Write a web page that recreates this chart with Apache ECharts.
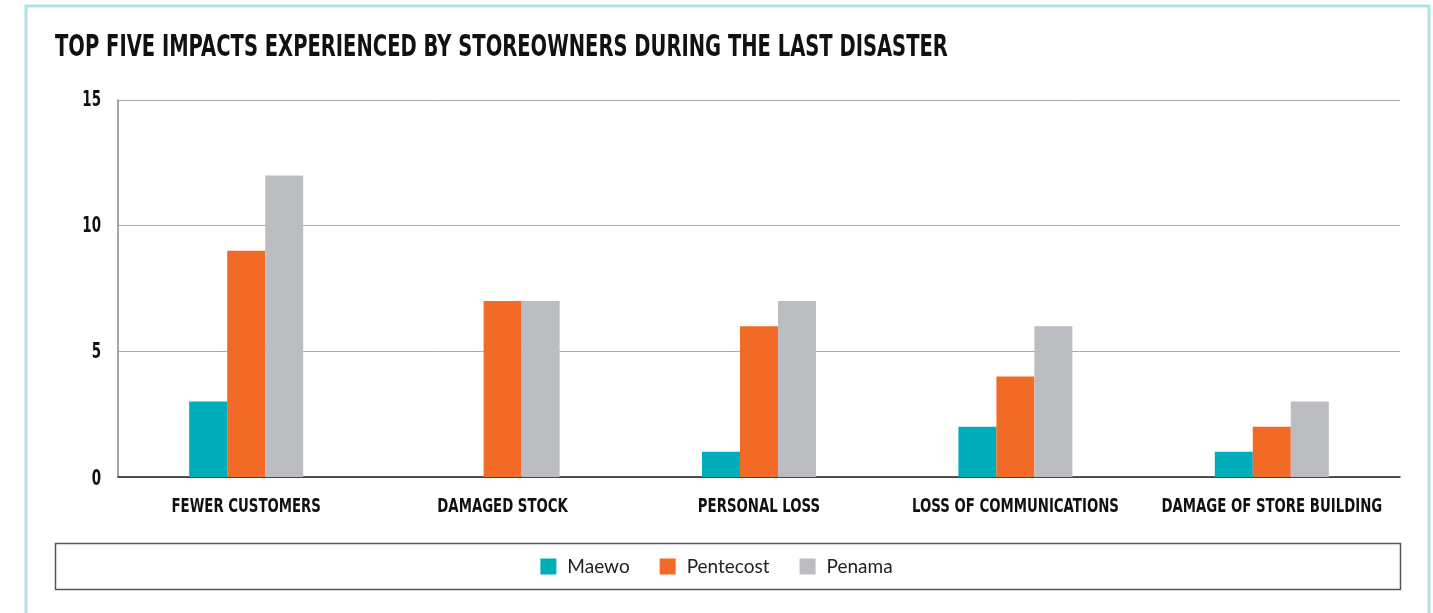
<!DOCTYPE html>
<html><head><meta charset="utf-8">
<script src="https://cdn.jsdelivr.net/npm/echarts@6/dist/echarts.min.js"></script>
<style>html,body{margin:0;padding:0;background:#fff}#c{width:1433px;height:613px}</style>
</head><body><div id="c"></div>
<script>
const categories = ['FEWER CUSTOMERS','DAMAGED STOCK','PERSONAL LOSS','LOSS OF COMMUNICATIONS','DAMAGE OF STORE BUILDING'];
const seriesNames = ['Maewo','Pentecost','Penama'];
const maewo = [3, 0, 1, 2, 1];
const pentecost = [9, 7, 6, 4, 2];
const penama = [12, 7, 7, 6, 3];
const yTicks = [0, 5, 10, 15];
const titleText = 'TOP FIVE IMPACTS EXPERIENCED BY STOREOWNERS DURING THE LAST DISASTER';
const colors = ['#00adbb', '#f26b26', '#bcbdc0'];
const condFont = '"DejaVu Sans", sans-serif';
const GRID_LEFT = 118;

const chart = echarts.init(document.getElementById('c'));
const values = [maewo, pentecost, penama];
const baseGraphic = [
  {id: 'frame', type: 'rect', shape: {x: 26, y: 6, width: 1403, height: 640}, style: {fill: 'none', stroke: '#b3e1e9', lineWidth: 3}, silent: true},
  {id: 'legendBox', type: 'rect', shape: {x: 55.5, y: 543.5, width: 1345, height: 46}, style: {fill: 'none', stroke: '#555', lineWidth: 1.5}, silent: true},
  {id: 'title', type: 'text', x: 55, y: 48, scaleX: 0.63, silent: true,
    style: {text: titleText, fill: '#111', font: 'bold 31px ' + condFont, verticalAlign: 'middle'}}
];
chart.setOption({
  animation: false,
  legend: {
    data: seriesNames, left: 'center', top: 552,
    itemWidth: 16, itemHeight: 16, itemGap: 30,
    icon: 'rect',
    textStyle: {fontFamily: 'Lato, sans-serif', fontSize: 19, color: '#222', padding: [0,0,0,6]}
  },
  grid: {left: GRID_LEFT, right: 33, top: 100, bottom: 136, containLabel: false},
  xAxis: {
    type: 'category', data: categories,
    axisLine: {lineStyle: {color: '#222', width: 1.5}},
    axisTick: {show: false},
    axisLabel: {show: false}
  },
  yAxis: {
    type: 'value', min: 0, max: 15, interval: 5,
    axisLine: {show: true, lineStyle: {color: '#888', width: 1.5}},
    axisTick: {show: false},
    splitLine: {lineStyle: {color: '#aaa', width: 1}},
    axisLabel: {show: false}
  },
  graphic: baseGraphic,
  series: seriesNames.map((n, i) => ({
    name: n, type: 'bar', data: values[i], barWidth: 38, barGap: '0%',
    itemStyle: {color: colors[i]}
  }))
});

// Condensed axis labels, placed through the chart's own scales
const y0 = chart.convertToPixel({yAxisIndex: 0}, 0);
const labelEls = categories.map((c, i) => ({
  id: 'xl' + i, type: 'text', silent: true,
  x: chart.convertToPixel({xAxisIndex: 0}, c), y: y0 + 30, scaleX: 0.70,
  style: {text: c, fill: '#111', font: 'bold 19px ' + condFont, align: 'center', verticalAlign: 'middle'}
})).concat(yTicks.map((v, i) => ({
  id: 'yl' + i, type: 'text', silent: true,
  x: GRID_LEFT - 17, y: chart.convertToPixel({yAxisIndex: 0}, v) + (v === 0 ? 3 : 1), scaleX: 0.64,
  style: {text: String(v), fill: '#111', font: 'bold 21px ' + condFont, align: 'right', verticalAlign: 'middle'}
})));
chart.setOption({graphic: baseGraphic.concat(labelEls)});
</script></body></html>
